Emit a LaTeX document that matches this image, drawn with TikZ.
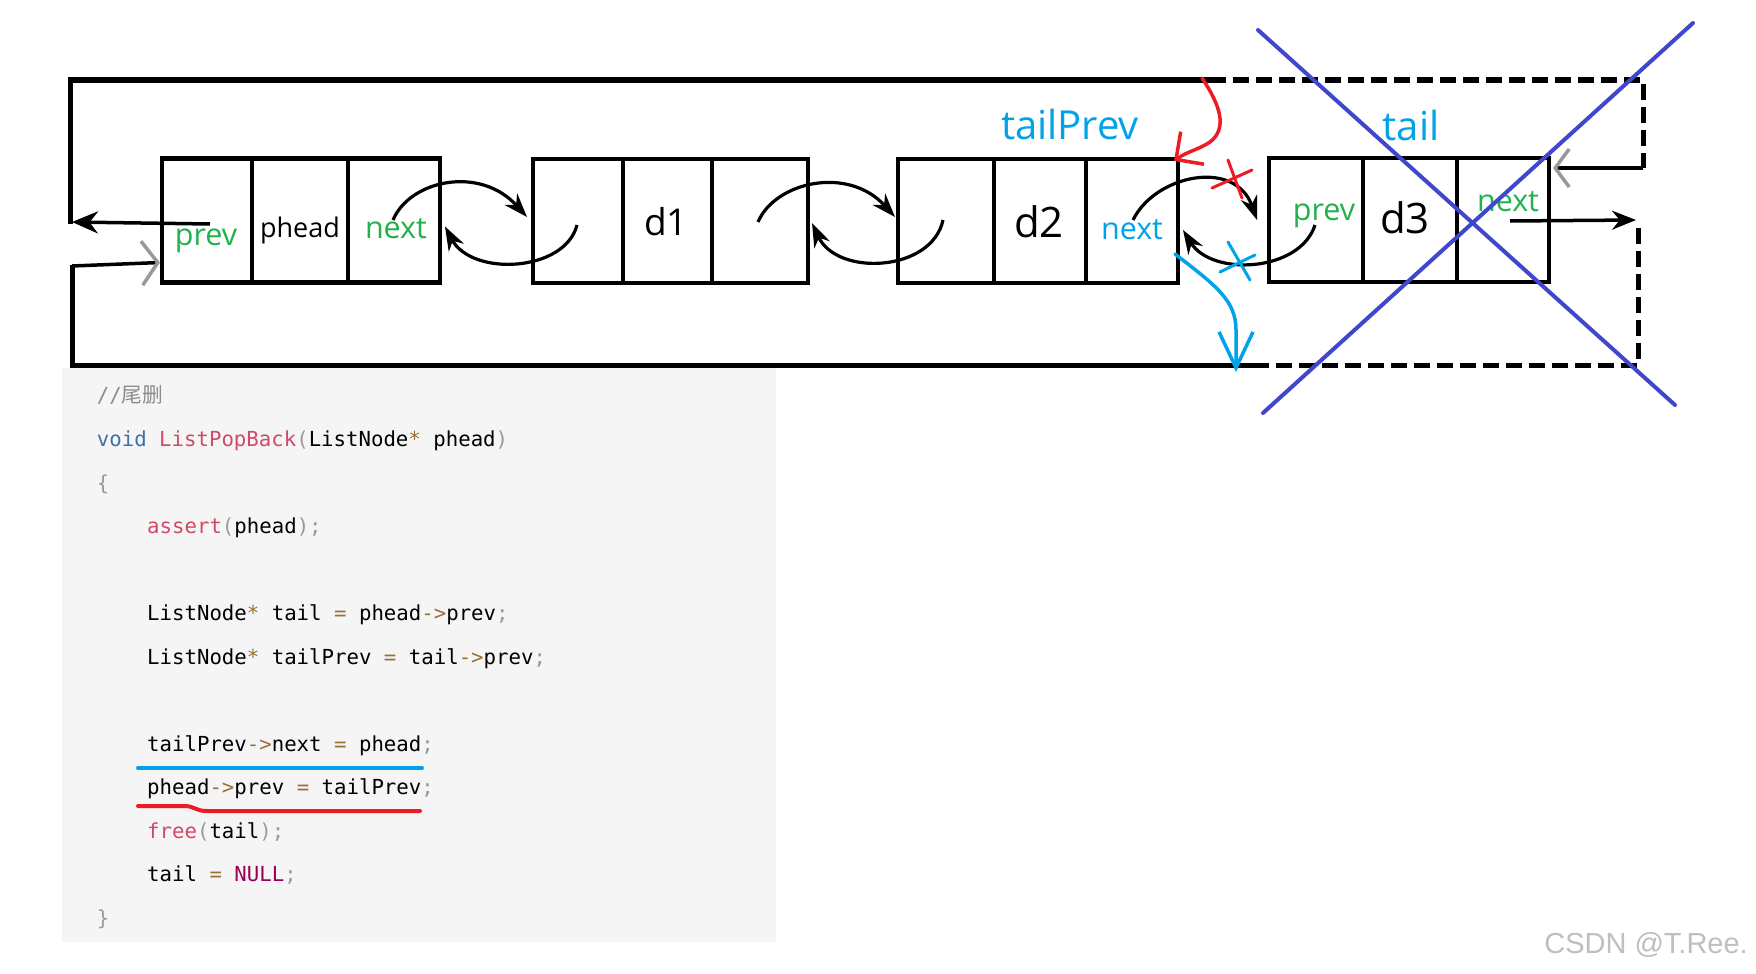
\documentclass[tikz,border=0pt]{standalone}
\usepackage{fontspec}
\setmainfont{Open Sans}
\newfontfamily\codefont{DejaVu Sans Mono}
\newfontfamily\cjkfont{Noto Sans CJK SC}
\newfontfamily\wmfont{Liberation Sans}
\usetikzlibrary{arrows.meta,calc}
\definecolor{pgreen}{HTML}{22B14C}
\definecolor{pblue}{HTML}{00A2E8}
\definecolor{pred}{HTML}{ED1C24}
\definecolor{pindigo}{HTML}{3F48CC}
\definecolor{codebg}{HTML}{F5F5F5}
\definecolor{kwc}{HTML}{3D6FAE}
\definecolor{fnc}{HTML}{D04A68}
\definecolor{puc}{HTML}{999999}
\definecolor{opc}{HTML}{9A6E3A}
\definecolor{nuc}{HTML}{990055}
\definecolor{cmc}{HTML}{8C8C8C}
\newcommand\ckw[1]{\textcolor{kwc}{#1}}
\newcommand\cfn[1]{\textcolor{fnc}{#1}}
\newcommand\cpu[1]{\textcolor{puc}{#1}}
\newcommand\cop[1]{\textcolor{opc}{#1}}
\newcommand\cnu[1]{\textcolor{nuc}{#1}}
\begin{document}
\begin{tikzpicture}[x=1pt,y=-1pt,
  cell/.style={draw=black, line width=4.5pt, minimum height=124pt, inner sep=0pt, outer sep=0pt},
  lab/.style={inner sep=0pt, anchor=base},
  fsmall/.style={font=\fontsize{27}{32}\selectfont},
  fmid/.style={font=\fontsize{30.5}{36}\selectfont},
  fbig/.style={font=\fontsize{42}{48}\selectfont},
  link/.style={line width=3.2pt, -{Stealth[length=24pt,width=17pt]}},
  frameline/.style={line width=5pt},
  dframe/.style={line width=5pt, dash pattern=on 16pt off 7pt},
  code/.style={anchor=base west, inner sep=0pt, font=\codefont\fontsize{20.7}{24}\selectfont},
  cross/.style={line width=4pt, pindigo, line cap=round},
]
\useasboundingbox (0,0) rectangle (1756,974);
\fill[white] (0,0) rectangle (1756,974);

% ---------- code box ----------
\fill[codebg] (62,368) rectangle (776,942);
\node[code] (l1) at (96.7,402) {\textcolor{cmc}{//{\cjkfont 尾删}}};
\node[code] (l2) at (96.7,446) {\ckw{void} \cfn{ListPopBack}\cpu{(}ListNode\cop{*} phead\cpu{)}};
\node[code] (l3) at (96.7,490) {\cpu{\{}};
\node[code] (l4) at (147,533.5) {\cfn{assert}\cpu{(}phead\cpu{);}};
\node[code] (l5) at (147,620.5) {ListNode\cop{*} tail \cop{=} phead\cop{->}prev\cpu{;}};
\node[code] (l6) at (147,664) {ListNode\cop{*} tailPrev \cop{=} tail\cop{->}prev\cpu{;}};
\node[code] (l7) at (147,751) {tailPrev\cop{->}next \cop{=} phead\cpu{;}};
\node[code] (l8) at (147,794.5) {phead\cop{->}prev \cop{=} tailPrev\cpu{;}};
\node[code] (l9) at (147,838) {\cfn{free}\cpu{(}tail\cpu{);}};
\node[code] (l10) at (147,881.5) {tail \cop{=} \cnu{NULL}\cpu{;}};
\node[code] (l11) at (96.7,925) {\cpu{\}}};
\draw[pblue, line width=4pt, line cap=round] (138,768) -- (422,768);
\draw[pred, line width=4pt, line cap=round] (138,806) -- (184,806) .. controls (195,806) and (195,811) .. (207,811) -- (420,811);

% ---------- list nodes ----------
\node[cell, minimum width=90pt] (p1) at (207,220.5) {};
\node[cell, minimum width=96pt] (p2) at (300,220.5) {};
\node[cell, minimum width=92pt] (p3) at (394,220.5) {};
\node[cell, minimum width=90pt] (a1) at (578,221) {};
\node[cell, minimum width=89pt] (a2) at (667.5,221) {};
\node[cell, minimum width=96pt] (a3) at (760,221) {};
\node[cell, minimum width=96pt] (b1) at (946,221) {};
\node[cell, minimum width=92pt] (b2) at (1040,221) {};
\node[cell, minimum width=92pt] (b3) at (1132,221) {};
\node[cell, minimum width=94pt] (c1) at (1316,220) {};
\node[cell, minimum width=94pt] (c2) at (1410,220) {};
\node[cell, minimum width=92pt] (c3) at (1503,220) {};

% labels
\node[lab, fmid, text=pgreen] (tp1) at (206,245) {prev};
\node[lab, fsmall] (tp2) at (300,237) {phead};
\node[lab, fmid, text=pgreen] (tp3) at (396,238) {next};
\node[lab, font=\fontsize{37}{42}\selectfont] (ta2) at (666,235) {d1};
\node[lab, fbig] (tb2) at (1039,237) {d2};
\node[lab, fmid, text=pblue] (tb3) at (1132,239) {next};
\node[lab, fmid, text=pgreen] (tc1) at (1324,220) {prev};
\node[lab, fbig] (tc2) at (1405,233) {d3};
\node[lab, fmid, text=pgreen] (tc3) at (1508,211) {next};
\node[lab, font=\fontsize{40}{46}\selectfont, text=pblue] (ttp) at (1070,139) {tailPrev};
\node[lab, font=\fontsize{40}{46}\selectfont, text=pblue] (ttl) at (1411,140) {tail};

% ---------- links between nodes ----------
\coordinate (s1) at (393,220);
\coordinate (e1) at ($(a1.west)+(-6,-4)$);
\draw[link] (s1) .. controls (410,180) and (480,165) .. (e1);
\coordinate (s2) at (577,225);
\coordinate (e2) at ($(p3.east)+(5,6)$);
\draw[link] (s2) .. controls (565,272) and (472,277) .. (e2);
\coordinate (s3) at (758,222);
\draw[link] (s3) .. controls (775,182) and (848,165) .. ($(b1.west)+(-3,-4)$);
\coordinate (s4) at (943,220);
\draw[link] (s4) .. controls (932,272) and (837,277) .. ($(a3.east)+(4,2)$);
\coordinate (s5) at (1133,220);
\draw[link] (s5) .. controls (1155,175) and (1235,158) .. ($(c1.west)+(-12,0)$);
\coordinate (s6) at (1315,225);
\draw[link] (s6) .. controls (1300,272) and (1212,277) .. ($(b3.east)+(5,9)$);

% ---------- outer frame ----------
\coordinate (pS) at (210,224);
\coordinate (fl) at (72,222);
\draw[line width=3.5pt, -{Stealth[length=26pt,width=22pt]}] (pS) -- (fl);
\draw[frameline] (70,224) -- (70,80) -- (1210,80);
\draw[dframe] (1210,80) -- (1643,80) -- (1643,168);
\coordinate (rT) at (1643,168);
\draw[line width=3.5pt, -{Straight Barb[length=14pt,width=38pt,color=gray!80]}] (rT) -- ($(c3.north east)+(4,10)$);
\coordinate (nS) at (1510,221);
\coordinate (rB) at (1636,220);
\draw[line width=3.5pt, -{Stealth[length=24pt,width=19pt]}] (nS) -- (rB);
\draw[dframe] (1638,228) -- (1638,365) -- (1260,365);
\draw[frameline] (1260,365) -- (72,365) -- (72,265);
\draw[line width=3.5pt, -{Straight Barb[length=16pt,width=44pt,color=gray!80]}] (72,266) -- ($(p1.south west)+(-2,-20)$);

% ---------- red annotation ----------
\coordinate (rs) at (1202,78);
\coordinate (rtip) at ($(b3.north east)+(-4,2)$);
\draw[pred, line width=3.5pt, line cap=round, -{Straight Barb[length=20pt,width=40pt]}]
  (rs) .. controls (1220,105) and (1228,128) .. (1210,142) .. controls (1198,150) and (1188,151) .. (rtip);
\draw[pred, line width=3pt, line cap=round] (1212,188) -- (1252,170);
\draw[pred, line width=3pt, line cap=round] (1228,160) -- (1242,198);

% ---------- blue annotation ----------
\coordinate (bs) at ($(b3.south east)+(-3,-29)$);
\coordinate (btip) at (1236,372);
\draw[pblue, line width=3.5pt, line cap=round, -{Straight Barb[length=36pt,width=34pt]}]
  (bs) .. controls (1215,285) and (1236,300) .. (1236,330) -- (btip);
\draw[pblue, line width=3pt, line cap=round] (1220,272) -- (1255,255);
\draw[pblue, line width=3pt, line cap=round] (1228,242) -- (1250,280);

% ---------- big cross ----------
\draw[cross] (1258,30) -- (1675,405);
\draw[cross] (1693,23) -- (1263,413);

% ---------- watermark ----------
\node[anchor=base east, inner sep=0pt, text=black!25, font=\wmfont\fontsize{29}{34}\selectfont] (wm) at (1748,953) {CSDN @T.Ree.};
\end{tikzpicture}
\end{document}
